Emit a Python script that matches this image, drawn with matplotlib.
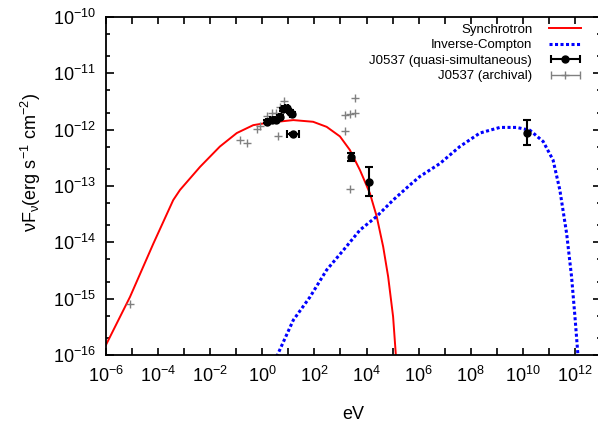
import numpy as np
import matplotlib
matplotlib.use('Agg')
import matplotlib.pyplot as plt
from matplotlib.ticker import LogLocator, FixedLocator, NullFormatter
from matplotlib.legend_handler import HandlerErrorbar
from matplotlib.container import ErrorbarContainer

plt.rcParams['font.family'] = ['Liberation Sans', 'DejaVu Sans']
plt.rcParams['mathtext.fontset'] = 'custom'
plt.rcParams['mathtext.rm'] = 'Liberation Sans'
plt.rcParams['mathtext.default'] = 'regular'

# model curves (log10 of eV, log10 of flux)
sync_logE = [-6.00, -5.08, -4.18, -3.42, -3.16, -2.39, -1.63, -0.98, -0.35, 0.17, 1.19,
             1.95, 2.47, 2.98, 3.36, 3.75, 4.13, 4.39, 4.64, 4.83, 5.02, 5.13]
sync_logF = [-15.82, -14.97, -14.02, -13.25, -13.07, -12.66, -12.30, -12.06, -11.92, -11.88, -11.83,
             -11.86, -11.95, -12.12, -12.36, -12.72, -13.13, -13.54, -14.08, -14.61, -15.32, -16.03]

ic_logE = [0.55, 1.19, 1.83, 2.47, 3.11, 3.75, 4.39, 5.02, 5.67, 6.05, 6.82, 7.58, 8.35,
           9.12, 9.76, 10.27, 10.78, 11.16, 11.42, 11.68, 11.87, 12.00, 12.12]
ic_logF = [-16.03, -15.38, -14.97, -14.49, -14.14, -13.78, -13.54, -13.25, -12.98, -12.83, -12.60, -12.30, -12.06,
           -11.96, -11.96, -12.01, -12.21, -12.54, -13.07, -13.84, -14.61, -15.32, -16.03]

# J0537 quasi-simultaneous data
quasi_E = [1.5, 2.3, 3.5, 4.8, 6.5, 8.5, 11.5, 13.2, 14.5, 2.45e3, 1.23e4, 1.48e10]
quasi_F = [1.38e-12, 1.48e-12, 1.48e-12, 1.70e-12, 2.29e-12, 2.40e-12, 2.09e-12, 1.91e-12,
           8.3e-13, 3.3e-13, 1.2e-13, 8.9e-13]
quasi_Elo = [0.15, 0.25, 0.35, 0.5, 0.6, 0.8, 1.1, 1.3, 6.0, 0, 0, 0]
quasi_Ehi = [0.15, 0.25, 0.35, 0.5, 0.6, 0.8, 1.1, 1.3, 10.0, 0, 0, 0]
quasi_Flo = [0.08e-12, 0.08e-12, 0.08e-12, 0.1e-12, 0.15e-12, 0.15e-12, 0.12e-12, 0.12e-12,
             0.4e-13, 0.5e-13, 0.54e-13, 3.65e-13]
quasi_Fhi = [0.08e-12, 0.08e-12, 0.08e-12, 0.1e-12, 0.15e-12, 0.15e-12, 0.12e-12, 0.12e-12,
             0.4e-13, 0.5e-13, 0.94e-13, 6.2e-13]

# J0537 archival data
arch_E = [8.3e-6, 0.138, 0.25, 0.60, 0.81, 1.48, 2.3, 3.5, 4.8, 6.8, 3.9,
          1.48e3, 2.3e3, 3.5e3, 3.5e3, 1.48e3, 2.3e3]
arch_F = [8.1e-16, 6.6e-13, 5.9e-13, 1.02e-12, 1.15e-12, 1.74e-12, 1.95e-12, 1.95e-12, 2.57e-12,
          3.24e-12, 7.8e-13, 1.82e-12, 1.9e-12, 2.0e-12, 3.6e-12, 9.5e-13, 8.9e-14]

fig = plt.figure(figsize=(5.98, 4.34), dpi=100)
ax = fig.add_axes([106/598, 1-355/434, (601-106)/598, (355-17)/434])

ax.plot(10**np.array(sync_logE), 10**np.array(sync_logF), color='red', lw=1.4, label='Synchrotron')
ax.plot(10**np.array(ic_logE), 10**np.array(ic_logF), color='blue', lw=2.2,
        dashes=(1, 0.8), label='Inverse-Compton')

ax.errorbar(arch_E, arch_F, fmt='+', color='gray', ms=6, mew=1, zorder=2)
ax.errorbar(quasi_E, quasi_F, xerr=[quasi_Elo, quasi_Ehi], yerr=[quasi_Flo, quasi_Fhi],
            fmt='o', color='black', ms=5, elinewidth=1.5, capsize=3, capthick=1.5, zorder=3)

# legend proxies drawn like gnuplot error bar keys
h_q = ax.errorbar([np.nan], [np.nan], xerr=[1], fmt='o', color='black', ms=5,
                  elinewidth=1.5, capsize=3, capthick=1.5, label='J0537 (quasi-simultaneous)')
h_a = ax.errorbar([np.nan], [np.nan], xerr=[1], fmt='+', color='gray', ms=6,
                  elinewidth=1, capsize=3, label='J0537 (archival)')

ax.set_xscale('log')
ax.set_yscale('log')
ax.set_xlim(1e-6, 1e13)
ax.set_ylim(1e-16, 1e-10)

ax.xaxis.set_major_locator(FixedLocator([10.0**k for k in range(-6, 13, 2)]))
ax.xaxis.set_minor_locator(FixedLocator([10.0**k for k in range(-5, 13, 2)]))
ax.xaxis.set_minor_formatter(NullFormatter())
ax.set_xticklabels(['$10^{%d}$' % k for k in range(-6, 13, 2)])
ax.yaxis.set_major_locator(FixedLocator([10.0**k for k in range(-16, -9)]))
ax.yaxis.set_minor_locator(LogLocator(base=10, subs=(2.0, 5.0), numticks=20))
ax.yaxis.set_minor_formatter(NullFormatter())
ax.set_yticklabels(['$10^{%d}$' % k for k in range(-16, -9)])

ax.tick_params(which='both', direction='in', top=True, right=True, labelsize=13, width=1.2)
ax.tick_params(axis='x', which='major', length=5, pad=8)
ax.tick_params(axis='x', which='minor', length=5)
ax.tick_params(axis='y', which='major', length=6, pad=7)
ax.tick_params(axis='y', which='minor', length=3)
for s in ax.spines.values():
    s.set_linewidth(1.3)

ax.set_xlabel('eV', fontsize=13, labelpad=14)
ax.set_ylabel('νF$_{ν}$(erg s$^{-1}$ cm$^{-2}$)', fontsize=13)
ax.yaxis.set_label_coords(-0.127, 0.57)

leg = ax.legend(loc='upper right', bbox_to_anchor=(0.981, 1.012), frameon=False, fontsize=9.5,
                markerfirst=False, handlelength=2.4, handletextpad=1.3, labelspacing=0.25,
                borderpad=0.3, handler_map={ErrorbarContainer: HandlerErrorbar(xerr_size=1.1)})

fig.savefig('out.png', dpi=100)
